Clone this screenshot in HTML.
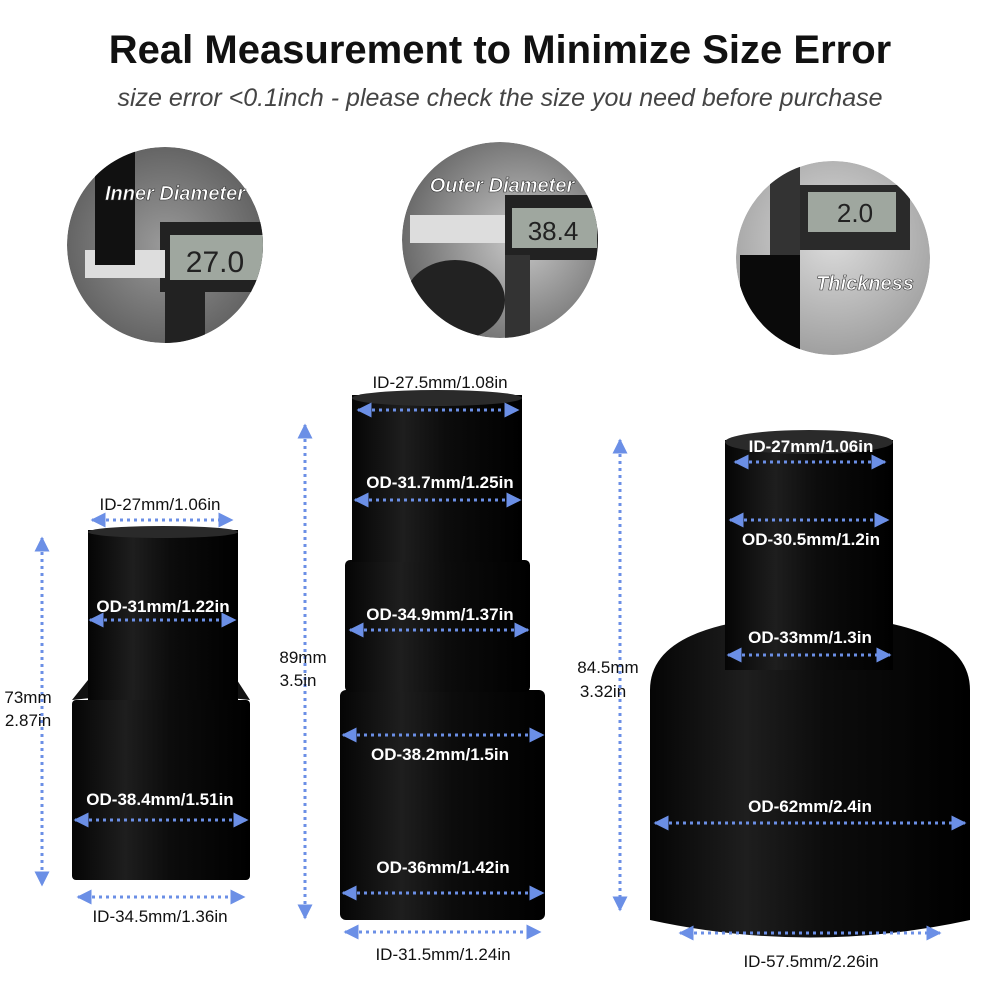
<!DOCTYPE html>
<html><head><meta charset="utf-8"><style>
body{margin:0;background:#fff;width:1000px;height:1000px;overflow:hidden;font-family:"Liberation Sans",sans-serif}
</style></head><body>
<svg width="1000" height="1000" viewBox="0 0 1000 1000" xmlns="http://www.w3.org/2000/svg" font-family="Liberation Sans, sans-serif">
<defs>
<linearGradient id="cyl" x1="0" x2="1" y1="0" y2="0">
<stop offset="0" stop-color="#050505"/><stop offset="0.3" stop-color="#1e1e1e"/><stop offset="0.55" stop-color="#0c0c0c"/><stop offset="1" stop-color="#000"/>
</linearGradient>
<radialGradient id="ph1" cx="0.5" cy="0.5" r="0.6"><stop offset="0" stop-color="#9a9a9a"/><stop offset="1" stop-color="#5a5a5a"/></radialGradient>
<radialGradient id="ph2" cx="0.6" cy="0.5" r="0.6"><stop offset="0" stop-color="#c8c8c8"/><stop offset="1" stop-color="#6a6a6a"/></radialGradient>
<radialGradient id="ph3" cx="0.5" cy="0.4" r="0.6"><stop offset="0" stop-color="#dcdcdc"/><stop offset="1" stop-color="#a0a0a0"/></radialGradient>
<clipPath id="c1"><circle cx="165" cy="245" r="98"/></clipPath>
<clipPath id="c2"><circle cx="500" cy="240" r="98"/></clipPath>
<clipPath id="c3"><circle cx="833" cy="258" r="97"/></clipPath>
<marker id="ar" viewBox="0 0 10 10" refX="9" refY="5" markerWidth="5" markerHeight="5" orient="auto-start-reverse"><path d="M0,0L10,5L0,10z" fill="#6b8fe6"/></marker>
</defs>
<text x="500" y="63" text-anchor="middle" font-size="40" font-weight="bold" fill="#111">Real Measurement to Minimize Size Error</text>
<text x="500" y="106" text-anchor="middle" font-size="25" font-style="italic" fill="#444">size error &lt;0.1inch - please check the size you need before purchase</text>

<g clip-path="url(#c1)">
<circle cx="165" cy="245" r="98" fill="url(#ph1)"/>
<rect x="160" y="222" width="110" height="70" fill="#222"/>
<rect x="170" y="235" width="95" height="45" fill="#9fa79f"/>
<text x="215" y="272" text-anchor="middle" font-size="30" fill="#222">27.0</text>
<rect x="85" y="250" width="80" height="28" fill="#ddd"/>
<rect x="95" y="145" width="40" height="120" fill="#111"/>
<rect x="165" y="290" width="40" height="60" fill="#222"/>
</g>
<text x="175" y="200" text-anchor="middle" font-size="20" font-weight="bold" font-style="italic" fill="#fff" stroke="#333" stroke-width="0.6">Inner Diameter</text>

<g clip-path="url(#c2)">
<circle cx="500" cy="240" r="98" fill="url(#ph2)"/>
<rect x="505" y="195" width="95" height="65" fill="#222"/>
<rect x="512" y="208" width="85" height="40" fill="#9fa79f"/>
<text x="553" y="240" text-anchor="middle" font-size="26" fill="#222">38.4</text>
<rect x="410" y="215" width="95" height="28" fill="#ddd"/>
<ellipse cx="455" cy="300" rx="50" ry="40" fill="#222"/>
<rect x="505" y="255" width="25" height="90" fill="#333"/>
</g>
<text x="502" y="192" text-anchor="middle" font-size="20" font-weight="bold" font-style="italic" fill="#fff" stroke="#333" stroke-width="0.6">Outer Diameter</text>

<g clip-path="url(#c3)">
<circle cx="833" cy="258" r="97" fill="url(#ph3)"/>
<rect x="795" y="185" width="115" height="65" fill="#2a2a2a"/>
<rect x="808" y="192" width="88" height="40" fill="#9fa79f"/>
<text x="855" y="222" text-anchor="middle" font-size="26" fill="#222">2.0</text>
<rect x="770" y="160" width="30" height="170" fill="#333"/>
<rect x="740" y="255" width="60" height="110" fill="#0a0a0a"/>
</g>
<text x="865" y="290" text-anchor="middle" font-size="20" font-weight="bold" font-style="italic" fill="#fff" stroke="#333" stroke-width="0.6">Thickness</text>

<!-- left adapter -->
<rect x="72" y="700" width="178" height="180" rx="4" fill="url(#cyl)"/>
<path d="M72,700 Q160,690 250,700 L237,680 L88,680 Z" fill="#111"/>
<rect x="88" y="530" width="150" height="170" fill="url(#cyl)"/>
<ellipse cx="163" cy="532" rx="75" ry="6" fill="#2a2a2a"/>

<!-- middle adapter -->
<rect x="340" y="690" width="205" height="230" rx="6" fill="url(#cyl)"/>
<rect x="345" y="560" width="185" height="132" rx="5" fill="url(#cyl)"/>
<rect x="352" y="395" width="170" height="167" fill="url(#cyl)"/>
<ellipse cx="437" cy="398" rx="85" ry="8" fill="#2a2a2a"/>

<!-- right adapter -->
<path d="M650,690 Q650,620 810,615 Q970,620 970,690 L970,920 Q810,955 650,920 Z" fill="url(#cyl)"/>
<rect x="725" y="440" width="168" height="230" fill="url(#cyl)"/>
<ellipse cx="809" cy="442" rx="84" ry="12" fill="#2a2a2a"/>

<g stroke="#6b8fe6" stroke-width="3" stroke-dasharray="3,4" fill="none" marker-start="url(#ar)" marker-end="url(#ar)">
<line x1="92" y1="520" x2="232" y2="520"/>
<line x1="42" y1="538" x2="42" y2="885"/>
<line x1="90" y1="620" x2="235" y2="620"/>
<line x1="75" y1="820" x2="247" y2="820"/>
<line x1="78" y1="897" x2="244" y2="897"/>
<line x1="358" y1="410" x2="518" y2="410"/>
<line x1="305" y1="425" x2="305" y2="918"/>
<line x1="355" y1="500" x2="520" y2="500"/>
<line x1="350" y1="630" x2="528" y2="630"/>
<line x1="343" y1="735" x2="543" y2="735"/>
<line x1="343" y1="893" x2="543" y2="893"/>
<line x1="345" y1="932" x2="540" y2="932"/>
<line x1="735" y1="462" x2="885" y2="462"/>
<line x1="620" y1="440" x2="620" y2="910"/>
<line x1="730" y1="520" x2="888" y2="520"/>
<line x1="728" y1="655" x2="890" y2="655"/>
<line x1="655" y1="823" x2="965" y2="823"/>
<line x1="680" y1="933" x2="940" y2="933"/>
</g>
<g font-size="17" fill="#111" text-anchor="middle">
<text x="160" y="510">ID-27mm/1.06in</text>
<text x="28" y="703">73mm</text>
<text x="28" y="726">2.87in</text>
<text x="160" y="922">ID-34.5mm/1.36in</text>
<text x="440" y="388">ID-27.5mm/1.08in</text>
<text x="303" y="663">89mm</text>
<text x="298" y="686">3.5in</text>
<text x="608" y="673">84.5mm</text>
<text x="603" y="697">3.32in</text>
<text x="443" y="960">ID-31.5mm/1.24in</text>
<text x="811" y="967">ID-57.5mm/2.26in</text>
</g>
<g font-size="17" font-weight="bold" fill="#fff" text-anchor="middle">
<text x="163" y="612">OD-31mm/1.22in</text>
<text x="160" y="805">OD-38.4mm/1.51in</text>
<text x="440" y="488">OD-31.7mm/1.25in</text>
<text x="440" y="620">OD-34.9mm/1.37in</text>
<text x="440" y="760">OD-38.2mm/1.5in</text>
<text x="443" y="873">OD-36mm/1.42in</text>
<text x="811" y="452">ID-27mm/1.06in</text>
<text x="811" y="545">OD-30.5mm/1.2in</text>
<text x="810" y="643">OD-33mm/1.3in</text>
<text x="810" y="812">OD-62mm/2.4in</text>
</g>
</svg>
</body></html>
